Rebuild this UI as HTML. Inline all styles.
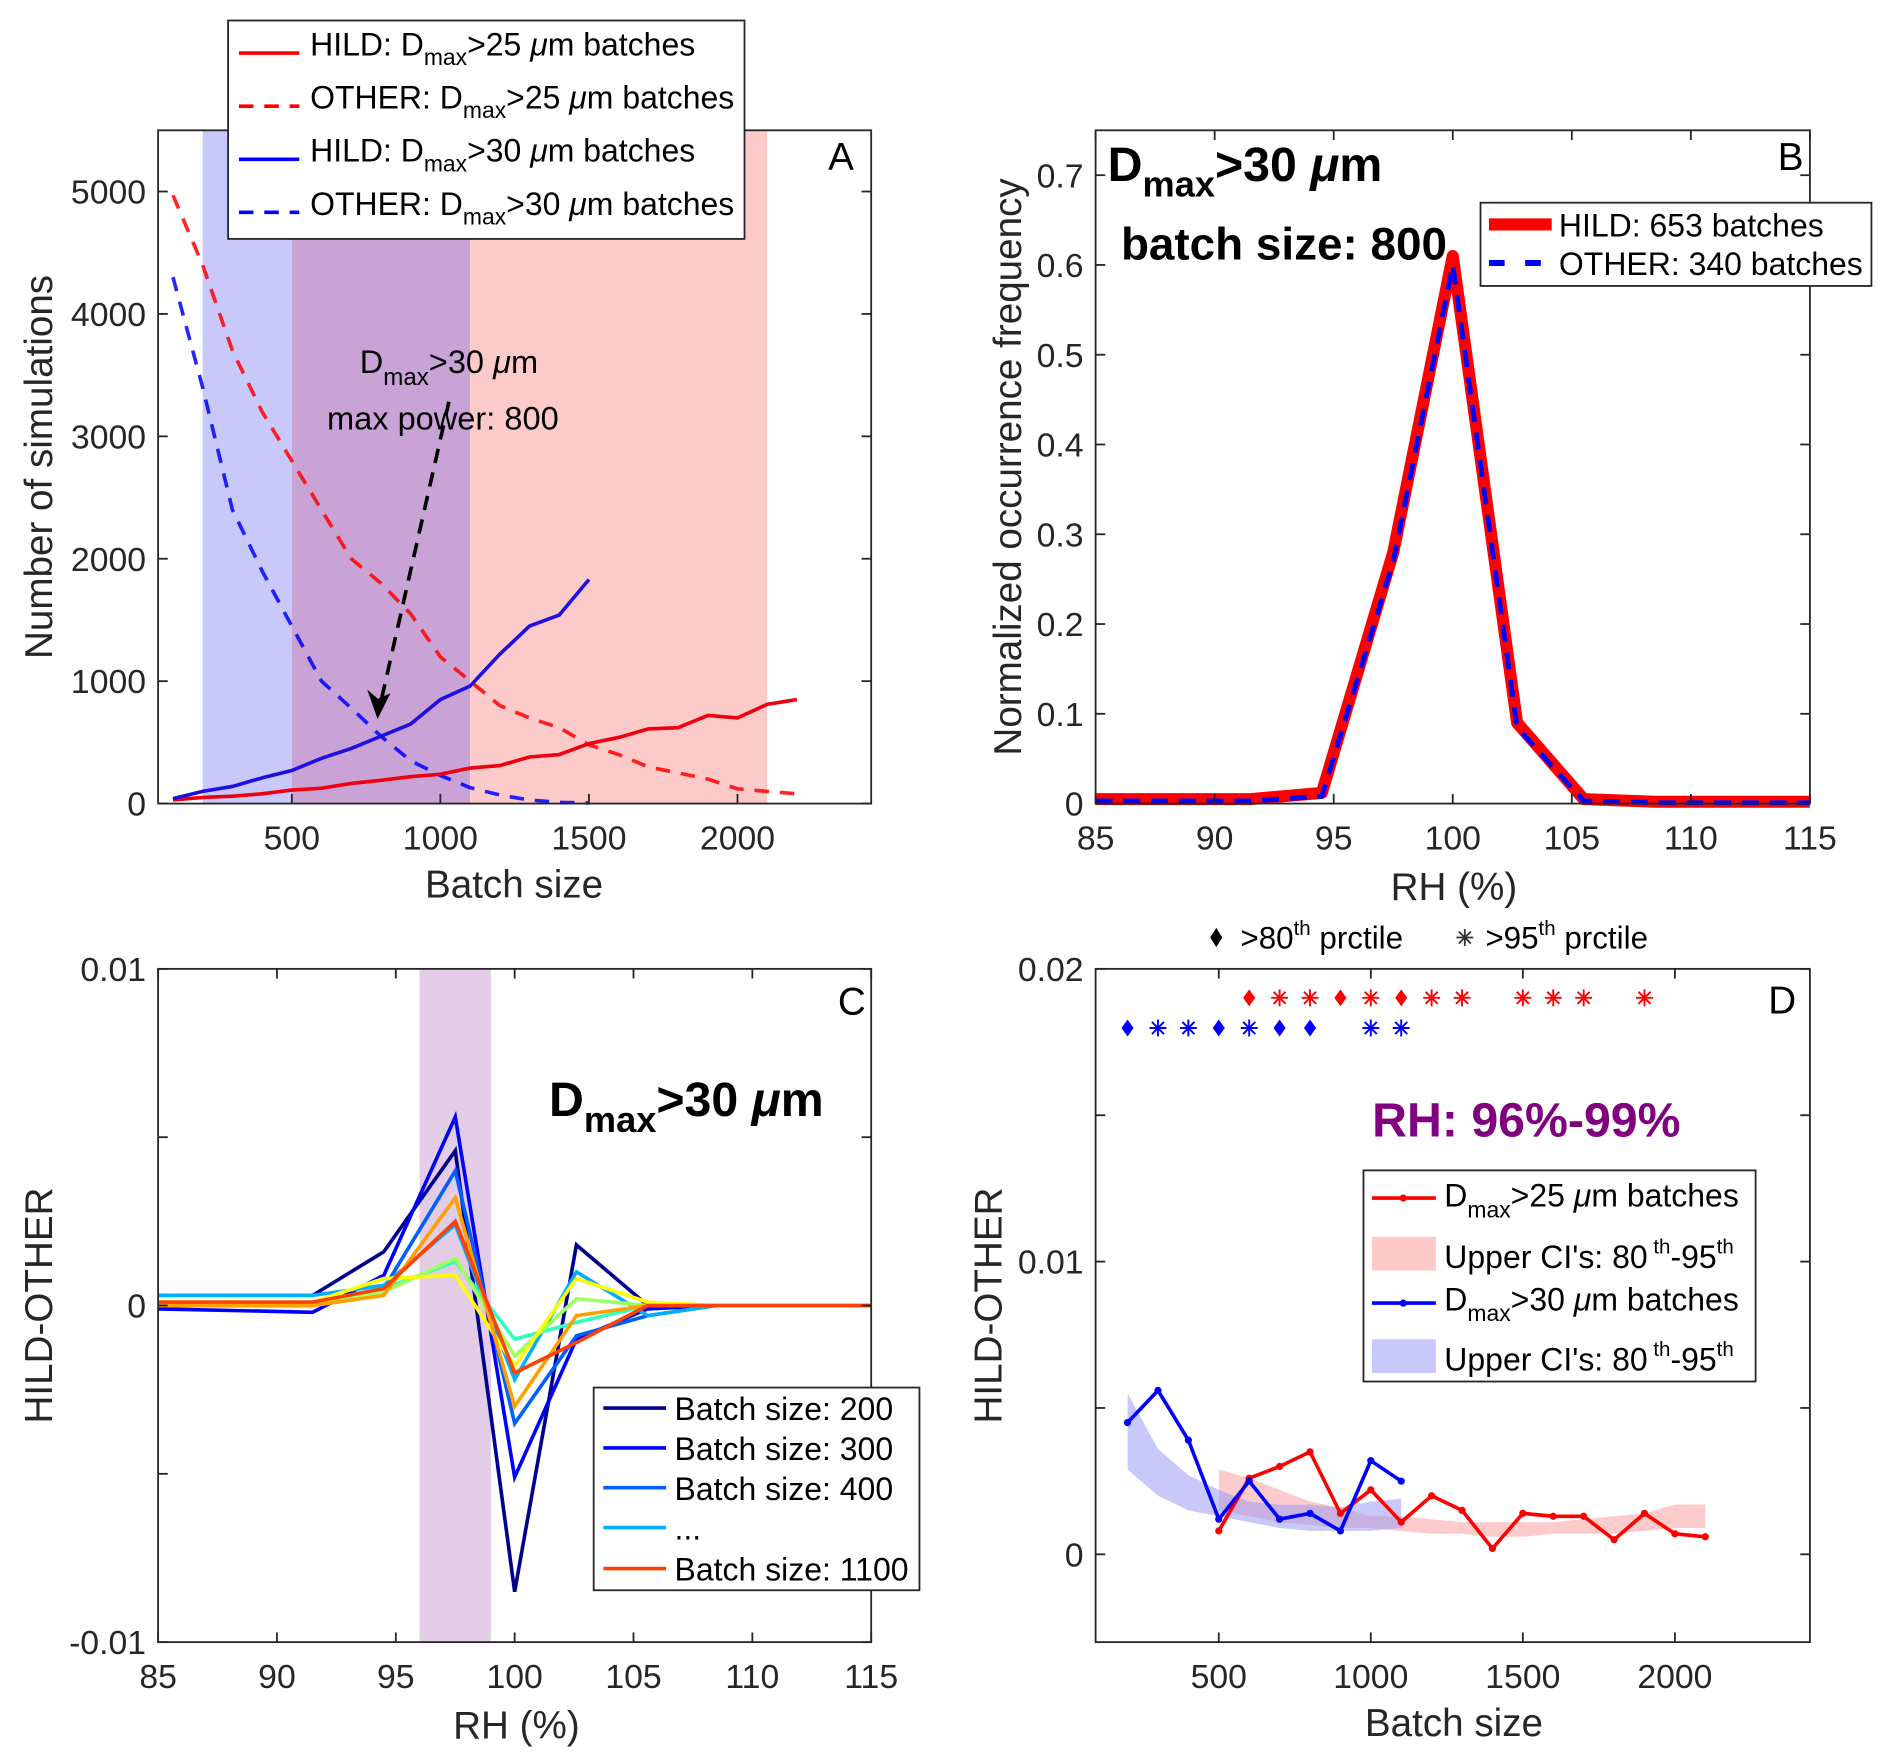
<!DOCTYPE html>
<html><head><meta charset="utf-8"><title>HILD vs OTHER figure</title>
<style>
html,body{margin:0;padding:0;background:#fff;}
svg{display:block;font-family:"Liberation Sans",Arial,sans-serif;}
.tick{font-size:28px;fill:#262626;}
.lab{font-size:32px;fill:#262626;}
.leg{font-size:26.5px;fill:#000;}
</style></head>
<body>
<svg id="fig" xmlns="http://www.w3.org/2000/svg" width="1892" height="1764" viewBox="0 0 1568 1462">
<rect x="0" y="0" width="1568" height="1462" fill="#fff"/>
<g id="gA"></g>
<g id="gB"></g>
<g id="gC"></g>
<g id="gD"></g>

<!-- Panel A static text -->
<text x="697" y="141" font-size="32" text-anchor="middle">A</text>
<text x="372" y="309" font-size="27" text-anchor="middle">D<tspan font-size="20" dy="10">max</tspan><tspan dy="-10">&gt;30 </tspan><tspan font-style="italic">μ</tspan>m</text>
<text x="367" y="356" font-size="27" text-anchor="middle">max power: 800</text>
<text class="lab" transform="translate(43,387) rotate(-90)" text-anchor="middle">Number of simulations</text>
<text class="lab" x="426" y="744" text-anchor="middle">Batch size</text>
<g>
<rect x="189" y="17" width="428" height="181" fill="#fff" stroke="#262626" stroke-width="1.5"/>
<line x1="198" y1="44" x2="248" y2="44" stroke="#ff0000" stroke-width="3"/>
<text class="leg" x="257" y="46">HILD: D<tspan font-size="19" dy="8">max</tspan><tspan dy="-8">&gt;25 </tspan><tspan font-style="italic">μ</tspan>m batches</text>
<line x1="198" y1="88" x2="248" y2="88" stroke="#ff0000" stroke-width="3" stroke-dasharray="12,9"/>
<text class="leg" x="257" y="90">OTHER: D<tspan font-size="19" dy="8">max</tspan><tspan dy="-8">&gt;25 </tspan><tspan font-style="italic">μ</tspan>m batches</text>
<line x1="198" y1="132" x2="248" y2="132" stroke="#0000ff" stroke-width="3"/>
<text class="leg" x="257" y="134">HILD: D<tspan font-size="19" dy="8">max</tspan><tspan dy="-8">&gt;30 </tspan><tspan font-style="italic">μ</tspan>m batches</text>
<line x1="198" y1="176" x2="248" y2="176" stroke="#0000ff" stroke-width="3" stroke-dasharray="12,9"/>
<text class="leg" x="257" y="178">OTHER: D<tspan font-size="19" dy="8">max</tspan><tspan dy="-8">&gt;30 </tspan><tspan font-style="italic">μ</tspan>m batches</text>
</g>

<!-- Panel B static text -->
<text x="1484" y="141" font-size="32" text-anchor="middle">B</text>
<text x="918" y="150" font-size="40" font-weight="bold">D<tspan font-size="30" dy="13">max</tspan><tspan dy="-13">&gt;30 </tspan><tspan font-style="italic">μ</tspan>m</text>
<text x="929" y="215" font-size="38" font-weight="bold">batch size: 800</text>
<text class="lab" transform="translate(846,387) rotate(-90)" text-anchor="middle">Normalized occurrence frequency</text>
<text class="lab" x="1205" y="746" text-anchor="middle">RH (%)</text>

<!-- Panel C static text -->
<text x="706" y="841" font-size="32" text-anchor="middle">C</text>
<text x="455" y="925" font-size="40" font-weight="bold">D<tspan font-size="30" dy="13">max</tspan><tspan dy="-13">&gt;30 </tspan><tspan font-style="italic">μ</tspan>m</text>
<text class="lab" transform="translate(43,1082) rotate(-90)" text-anchor="middle">HILD-OTHER</text>
<text class="lab" x="428" y="1441" text-anchor="middle">RH (%)</text>

<!-- Panel D static text -->
<text x="1477" y="840" font-size="32" text-anchor="middle">D</text>
<text x="1265" y="942" font-size="40" font-weight="bold" fill="#800080" text-anchor="middle">RH: 96%-99%</text>
<text class="lab" transform="translate(830,1082) rotate(-90)" text-anchor="middle">HILD-OTHER</text>
<text class="lab" x="1205" y="1439" text-anchor="middle">Batch size</text>
<g>
<path d="M1008,769 L1013,777 L1008,785 L1003,777 Z" fill="#000"/>
<text x="1028" y="786" font-size="26">&gt;80<tspan font-size="17" dy="-11">th</tspan><tspan dy="11"> prctile</tspan></text>
<g stroke="#333" stroke-width="1.5"><line x1="1207" y1="777" x2="1221" y2="777"/><line x1="1214" y1="770" x2="1214" y2="784"/><line x1="1209" y1="772" x2="1219" y2="782"/><line x1="1209" y1="782" x2="1219" y2="772"/></g>
<text x="1231" y="786" font-size="26">&gt;95<tspan font-size="17" dy="-11">th</tspan><tspan dy="11"> prctile</tspan></text>
</g>

<script>
// ---------- Panel A data ----------
const aBatchRed = [100,200,300,400,500,600,700,800,900,1000,1100,1200,1300,1400,1500,1600,1700,1800,1900,2000,2100,2200];
const aHild25 = [30,50,60,80,110,125,165,190,220,240,290,310,380,400,490,540,610,620,720,700,810,850];
const aOther25 = [4970,4400,3700,3200,2800,2400,2000,1800,1550,1200,1000,800,700,620,480,400,300,250,200,120,100,80];
const aBatchBlue = [100,200,300,400,500,600,700,800,900,1000,1100,1200,1300,1400,1500];
const aHild30 = [40,100,140,210,270,370,450,550,650,850,960,1220,1450,1540,1830];
const aOther30 = [4300,3400,2400,1900,1450,1000,780,550,350,230,130,70,30,10,5];
const aXTicks = [500,1000,1500,2000];
const aYTicks = [0,1000,2000,3000,4000,5000];
// ---------- Panel B data ----------
const rhPoints = [85,88,91.5,94.5,97.5,100,102.7,105.5,108.5,111.5,115];
const bHild = [0.005,0.005,0.005,0.012,0.28,0.61,0.09,0.005,0.002,0.002,0.002];
const bOther = [0.003,0.003,0.003,0.008,0.27,0.6,0.085,0.003,0.001,0.001,0.001];
const rhTicks = [85,90,95,100,105,110,115];
const bYTicks = [0,0.1,0.2,0.3,0.4,0.5,0.6,0.7];
// ---------- Panel C data ----------
const cRH = [85,91.5,94.5,97.5,100,102.6,105.6,108.5,115];
const cBatches = [200,300,400,500,600,700,800,900,1100];
const cColors = ["#00008f","#0000ff","#0060ff","#00b0ff","#30ffc0","#a0ff60","#ffff00","#ffa000","#ff4000"];
const c200 = [0.0003,0.0003,0.0016,0.0046,-0.0085,0.0018,0,0,0];
const c300 = [-0.0001,-0.0002,0.0009,0.0056,-0.0051,-0.001,-0.0001,0,0];
const c400 = [0,0,0.0005,0.004,-0.0035,-0.0009,-0.0003,0,0];
const c500 = [0.0003,0.0003,0.0006,0.0024,-0.0022,0.001,-0.0003,0,0];
const c600 = [0.0001,0.0001,0.0005,0.0013,-0.001,-0.0005,0,0,0];
const c700 = [0.0001,0.0001,0.0004,0.0014,-0.0015,0.0002,0,0,0];
const c800 = [0.0001,0.0001,0.0008,0.0009,-0.0018,0.0008,0.0001,0,0];
const c900 = [0,0,0.0003,0.0032,-0.003,-0.0003,0,0,0];
const c1100 = [0.0001,0.0001,0.0005,0.0025,-0.002,-0.0011,0,0,0];
const cSeries = [c200,c300,c400,c500,c600,c700,c800,c900,c1100];
const cYTicks = [-0.01,0,0.01];
const cYMinor = [-0.005,0.005];
// ---------- Panel D data ----------
const dBatchRed = [500,600,700,800,900,1000,1100,1200,1300,1400,1500,1600,1700,1800,1900,2000,2100];
const dRed = [0.0008,0.0026,0.003,0.0035,0.0014,0.0022,0.0011,0.002,0.0015,0.0002,0.0014,0.0013,0.0013,0.0005,0.0014,0.0007,0.0006];
const dRedUpper = [0.0029,0.0026,0.0022,0.0018,0.0016,0.0013,0.0013,0.0012,0.0011,0.0011,0.0011,0.0011,0.0012,0.0013,0.0014,0.0017,0.0017];
const dRedLower = [0.0015,0.0013,0.0011,0.001,0.0009,0.0009,0.0008,0.0007,0.0007,0.0006,0.0006,0.0007,0.0007,0.0007,0.0008,0.0009,0.0009];
const dBatchBlue = [200,300,400,500,600,700,800,900,1000,1100];
const dBlue = [0.0045,0.0056,0.0039,0.0012,0.0025,0.0012,0.0014,0.0008,0.0032,0.0025];
const dBlueUpper = [0.0055,0.0036,0.0027,0.0022,0.0018,0.0017,0.0017,0.0016,0.0018,0.0019];
const dBlueLower = [0.0029,0.002,0.0015,0.0013,0.0011,0.0009,0.0008,0.0008,0.0008,0.0009];
const dRedDiamonds = [600,900,1100];
const dRedStars = [700,800,1000,1200,1300,1500,1600,1700,1900];
const dBlueDiamonds = [200,500,700,800];
const dBlueStars = [300,400,600,1000,1100];
const dYTicks = [0,0.01,0.02];
const dYMinor = [0.005,0.015];

const NS = "http://www.w3.org/2000/svg";
function mk(tag, attrs, parent){
  const e = document.createElementNS(NS, tag);
  for (const k in attrs) e.setAttribute(k, attrs[k]);
  parent.appendChild(e);
  return e;
}
function lin(d0,d1,p0,p1){ return v => p0 + (v-d0)/(d1-d0)*(p1-p0); }

function axes(g, L, T, R, B, xs, ys, xt, yt, xlab, ylab, minor){
  const frame = mk("rect",{x:L,y:T,width:R-L,height:B-T,fill:"none",stroke:"#262626","stroke-width":1.5},g);
  
  
  xt.forEach((v,i)=>{
    const x = xs(v);
    mk("line",{x1:x,y1:B,x2:x,y2:B-8,stroke:"#262626","stroke-width":1.5},g);
    mk("line",{x1:x,y1:T,x2:x,y2:T+8,stroke:"#262626","stroke-width":1.5},g);
    const t = mk("text",{x:x,y:B+38,"text-anchor":"middle",class:"tick"},g);
    t.textContent = xlab[i];
    
    
  });
  yt.forEach((v,i)=>{
    const y = ys(v);
    mk("line",{x1:L,y1:y,x2:L+8,y2:y,stroke:"#262626","stroke-width":1.5},g);
    mk("line",{x1:R,y1:y,x2:R-8,y2:y,stroke:"#262626","stroke-width":1.5},g);
    const t = mk("text",{x:L-10,y:y+10,"text-anchor":"end",class:"tick"},g);
    t.textContent = ylab[i];
    
    
  });
  (minor||[]).forEach(v=>{
    const y = ys(v);
    mk("line",{x1:L,y1:y,x2:L+8,y2:y,stroke:"#262626","stroke-width":1.5},g);
    mk("line",{x1:R,y1:y,x2:R-8,y2:y,stroke:"#262626","stroke-width":1.5},g);
  });
}
function pathFrom(xsArr, ysArr, xs, ys){
  return xsArr.map((v,i)=>(i?"L":"M")+xs(v).toFixed(1)+","+ys(ysArr[i]).toFixed(1)).join(" ");
}

// ===== Panel A =====
(function(){
  const g = document.getElementById("gA");
  const L=131,T=108,R=722,B=666;
  const xs = lin(50,2450,L,R), ys = lin(0,5500,B,T);
  const s1 = mk("rect",{x:xs(200),y:T,width:xs(500)-xs(200),height:B-T,fill:"#c8c8fa"},g);
  
  
  const s2 = mk("rect",{x:xs(500),y:T,width:xs(1100)-xs(500),height:B-T,fill:"#c9a2d6"},g);
  
  
  const s3 = mk("rect",{x:xs(1100),y:T,width:xs(2100)-xs(1100),height:B-T,fill:"#fdcaca"},g);
  
  
  const o25 = mk("path",{d:pathFrom(aBatchRed,aOther25,xs,ys),fill:"none",stroke:"#ff0000","stroke-width":3,"stroke-dasharray":"12,9",opacity:0.85},g);
  
  
  const o30 = mk("path",{d:pathFrom(aBatchBlue,aOther30,xs,ys),fill:"none",stroke:"#0000ff","stroke-width":3,"stroke-dasharray":"12,9",opacity:0.85},g);
  
  
  const h25 = mk("path",{d:pathFrom(aBatchRed,aHild25,xs,ys),fill:"none",stroke:"#ee0010","stroke-width":3},g);
  
  
  const h30 = mk("path",{d:pathFrom(aBatchBlue,aHild30,xs,ys),fill:"none",stroke:"#2010e0","stroke-width":3},g);
  
  
  const ar = mk("path",{d:"M372,333 L316,580",fill:"none",stroke:"#000","stroke-width":3,"stroke-dasharray":"12,8"},g);
  
  
  const ah = mk("path",{d:"M313,594 L306,574 L313,580 L322,576 Z",fill:"#000",stroke:"#000","stroke-width":1.5},g);
  
  
  axes(g,L,T,R,B,xs,ys,aXTicks,aYTicks,aXTicks.map(String),aYTicks.map(String));
})();

// ===== Panel B =====
(function(){
  const g = document.getElementById("gB");
  const L=908,T=108,R=1500,B=666;
  const xs = lin(85,115,L,R), ys = lin(0,0.75,B,T);
  const h = mk("path",{d:pathFrom(rhPoints,bHild,xs,ys),fill:"none",stroke:"#ff0000","stroke-width":10,"stroke-linejoin":"round"},g);
  
  
  const o = mk("path",{d:pathFrom(rhPoints,bOther,xs,ys),fill:"none",stroke:"#0000ff","stroke-width":4,"stroke-dasharray":"14,9"},g);
  
  
  axes(g,L,T,R,B,xs,ys,rhTicks,bYTicks,rhTicks.map(String),bYTicks.map(v=>String(Math.round(v*10)/10)));
  const lg = mk("g",{},g);
  
  
  mk("rect",{x:1227,y:168,width:324,height:69,fill:"#fff",stroke:"#262626","stroke-width":1.5},lg);
  mk("line",{x1:1234,y1:186,x2:1286,y2:186,stroke:"#ff0000","stroke-width":10},lg);
  mk("line",{x1:1234,y1:218,x2:1286,y2:218,stroke:"#0000ff","stroke-width":5,"stroke-dasharray":"13,17"},lg);
  const t1 = mk("text",{x:1292,y:196,class:"leg"},lg); t1.textContent = "HILD: 653 batches";
  
  
  const t2 = mk("text",{x:1292,y:228,class:"leg"},lg); t2.textContent = "OTHER: 340 batches";
  
  
})();

// ===== Panel C =====
(function(){
  const g = document.getElementById("gC");
  const L=131,T=803,R=722,B=1361;
  const xs = lin(85,115,L,R), ys = lin(-0.01,0.01,B,T);
  const band = mk("rect",{x:xs(96),y:T,width:xs(99)-xs(96),height:B-T,fill:"#e2cce6"},g);
  
  
  cSeries.forEach((s,i)=>{
    const p = mk("path",{d:pathFrom(cRH,s,xs,ys),fill:"none",stroke:cColors[i],"stroke-width":3},g);
    
    
  });
  axes(g,L,T,R,B,xs,ys,rhTicks,cYTicks,rhTicks.map(String),["-0.01","0","0.01"],cYMinor);
  const lg = mk("g",{},g);
  
  
  mk("rect",{x:492,y:1150,width:270,height:168,fill:"#fff",stroke:"#262626","stroke-width":1.5},lg);
  const entries = [["Batch size: 200","#00008f",1167],["Batch size: 300","#0000ff",1200],["Batch size: 400","#0060ff",1233],["...","#00b0ff",1266],["Batch size: 1100","#ff4000",1300]];
  entries.forEach(e=>{
    mk("line",{x1:500,y1:e[2],x2:552,y2:e[2],stroke:e[1],"stroke-width":3},lg);
    const t = mk("text",{x:559,y:e[2]+10,class:"leg"},lg); t.textContent = e[0];
    
    
  });
})();

// ===== Panel D =====
(function(){
  const g = document.getElementById("gD");
  const L=908,T=803,R=1500,B=1361;
  const xs = lin(95,2444,L,R), ys = lin(-0.003,0.02,B,T);
  function band(xa,up,lo,col,name){
    let d = xa.map((v,i)=>(i?"L":"M")+xs(v).toFixed(1)+","+ys(up[i]).toFixed(1)).join(" ");
    for (let i=xa.length-1;i>=0;i--) d += " L"+xs(xa[i]).toFixed(1)+","+ys(lo[i]).toFixed(1);
    const p = mk("path",{d:d+" Z",fill:col,opacity:0.55},g);
    
    
  }
  band(dBatchRed,dRedUpper,dRedLower,"#fca0a0","ci-band-25");
  band(dBatchBlue,dBlueUpper,dBlueLower,"#9a9af5","ci-band-30");
  function series(xa,ya,col,name){
    const p = mk("path",{d:pathFrom(xa,ya,xs,ys),fill:"none",stroke:col,"stroke-width":3},g);
    
    
    xa.forEach((v,i)=>{
      const c = mk("circle",{cx:xs(v),cy:ys(ya[i]),r:3,fill:col},g);
      
      
    });
  }
  series(dBatchRed,dRed,"#ff0000","line-hild-other-25");
  series(dBatchBlue,dBlue,"#0000ff","line-hild-other-30");
  function diamond(x,y,col){
    const p = mk("path",{d:`M${x},${y-7} L${x+5},${y} L${x},${y+7} L${x-5},${y} Z`,fill:col},g);
    
    
  }
  function star(x,y,col){
    const s = mk("g",{stroke:col,"stroke-width":1.6},g);
    
    
    mk("line",{x1:x-7,y1:y,x2:x+7,y2:y},s);
    mk("line",{x1:x,y1:y-7,x2:x,y2:y+7},s);
    mk("line",{x1:x-5,y1:y-5,x2:x+5,y2:y+5},s);
    mk("line",{x1:x-5,y1:y+5,x2:x+5,y2:y-5},s);
  }
  dRedDiamonds.forEach(v=>diamond(xs(v),827,"#ff0000"));
  dRedStars.forEach(v=>star(xs(v),827,"#ff0000"));
  dBlueDiamonds.forEach(v=>diamond(xs(v),852,"#0000ff"));
  dBlueStars.forEach(v=>star(xs(v),852,"#0000ff"));
  axes(g,L,T,R,B,xs,ys,aXTicks,dYTicks,aXTicks.map(String),["0","0.01","0.02"],dYMinor);
  const lg = mk("g",{},g);
  
  
  mk("rect",{x:1130,y:970,width:325,height:175,fill:"#fff",stroke:"#262626","stroke-width":1.5},lg);
  mk("line",{x1:1137,y1:993,x2:1190,y2:993,stroke:"#ff0000","stroke-width":3},lg);
  mk("circle",{cx:1163,cy:993,r:3,fill:"#ff0000"},lg);
  mk("rect",{x:1137,y:1025,width:53,height:28,fill:"#fdc8c8"},lg);
  mk("line",{x1:1137,y1:1080,x2:1190,y2:1080,stroke:"#0000ff","stroke-width":3},lg);
  mk("circle",{cx:1163,cy:1080,r:3,fill:"#0000ff"},lg);
  mk("rect",{x:1137,y:1110,width:53,height:28,fill:"#c8c8fa"},lg);
})();
</script>
<g>
<text class="leg" x="1197" y="1000">D<tspan font-size="19" dy="9">max</tspan><tspan dy="-9">&gt;25 </tspan><tspan font-style="italic">μ</tspan>m batches</text>
<text class="leg" x="1197" y="1051">Upper CI's: 80<tspan font-size="17" dy="-12"> th</tspan><tspan dy="12">-95</tspan><tspan font-size="17" dy="-12">th</tspan></text>
<text class="leg" x="1197" y="1086">D<tspan font-size="19" dy="9">max</tspan><tspan dy="-9">&gt;30 </tspan><tspan font-style="italic">μ</tspan>m batches</text>
<text class="leg" x="1197" y="1136">Upper CI's: 80<tspan font-size="17" dy="-12"> th</tspan><tspan dy="12">-95</tspan><tspan font-size="17" dy="-12">th</tspan></text>
</g>
</svg>
</body></html>
